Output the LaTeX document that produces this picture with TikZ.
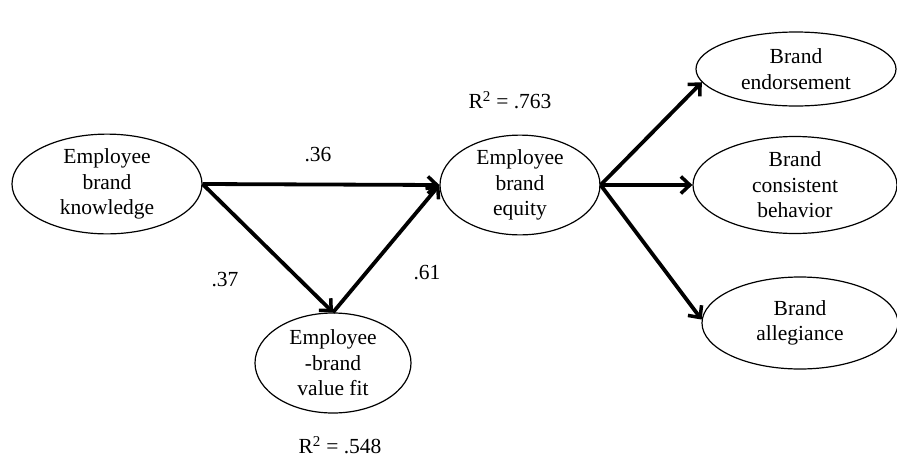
\documentclass[tikz,border=0pt]{standalone}
\usepackage{fontspec}
\setmainfont{Liberation Serif}
\usepackage{tikz}
\usetikzlibrary{shapes.geometric, arrows.meta}

\tikzset{
  >={Straight Barb[length = 9pt, width = 17pt, line width = 3.5pt]},
  construct/.style = {draw, ellipse, line width = 1.2pt, align = center, inner sep = 0pt,
    font = \fontsize{21.5}{25.5}\selectfont},
  path/.style = {line width = 3.8pt, ->},
  coef/.style = {font = \fontsize{21.5}{25.5}\selectfont}
}

\begin{document}
\begin{tikzpicture}[x = 1pt, y = -1pt]
\useasboundingbox (0, 0) rectangle (897, 461);
\node [construct, minimum width = 190, minimum height = 97] (ebk) at (107, 184) {Employee\\brand\\knowledge};
\node [construct, minimum width = 160, minimum height = 96] (ebe) at (520, 185) {Employee\\brand\\equity};
\node [construct, minimum width = 156, minimum height = 100] (fit) at (333, 363) {Employee\\-brand\\value fit};
\node [construct, minimum width = 200, minimum height = 74] (endo) at (796, 69) {Brand\\endorsement};
\node [construct, minimum width = 204, minimum height = 97] (cons) at (795, 185) {Brand\\consistent\\behavior};
\node [construct, minimum width = 196, minimum height = 92] (alle) at (800, 323) {Brand\\allegiance};
\node [coef] (c36) at (318, 155) {.36};
\node [coef] (c37) at (225, 280) {.37};
\node [coef] (c61) at (427, 273) {.61};
\node [coef] (r763) at (510, 100) {R\textsuperscript{2} = .763};
\node [coef] (r548) at (340, 445) {R\textsuperscript{2} = .548};
\draw [path] (ebk.east) -- (ebe.west);
\draw [path] (ebk.east) -- (fit.north);
\draw [path] (fit.north) -- (ebe.west);
\draw [path] (ebe.east) -- (endo.188);
\draw [path] (ebe.east) -- (cons.west);
\draw [path] (ebe.east) -- (alle.178);
\end{tikzpicture}
\end{document}
